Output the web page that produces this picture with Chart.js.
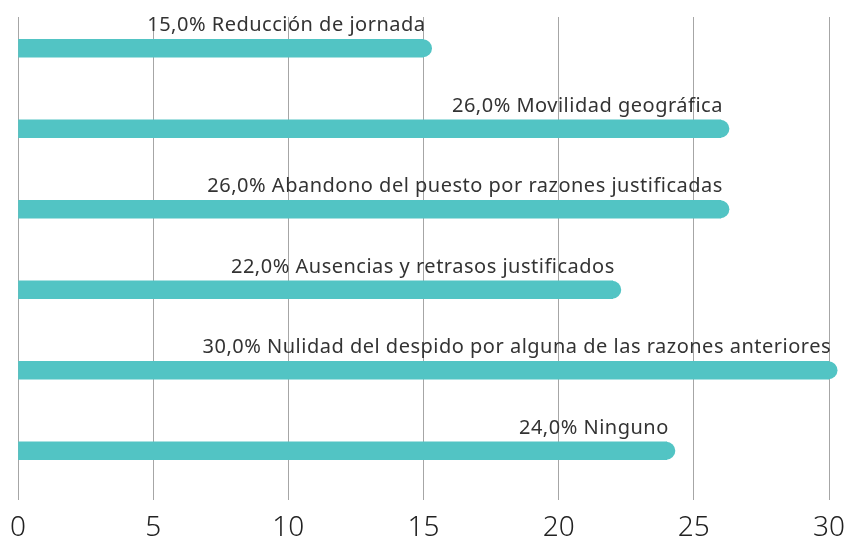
<!DOCTYPE html>
<html>
<head>
<meta charset="utf-8">
<script src="https://cdn.jsdelivr.net/npm/chart.js@4/dist/chart.umd.min.js"></script>
<style>
  html, body { margin: 0; padding: 0; background: #fff; }
  #wrap { width: 851px; height: 542px; }
</style>
</head>
<body>
<div id="wrap"><canvas id="myChart"></canvas></div>
<script>
var categories = [
    'Reducción de jornada',
    'Movilidad geográfica',
    'Abandono del puesto por razones justificadas',
    'Ausencias y retrasos justificados',
    'Nulidad del despido por alguna de las razones anteriores',
    'Ninguno'
];
var values = [15, 26, 26, 22, 30, 24];
var xTicks = [0, 5, 10, 15, 20, 25, 30];

var teal = '#52c4c4';

// round cap at bar end + text label above each bar
var barLabels = {
    id: 'barLabels',
    afterDatasetsDraw: function (chart) {
        var ctx = chart.ctx;
        var meta = chart.getDatasetMeta(0);
        ctx.save();
        meta.data.forEach(function (bar, i) {
            var r = bar.height / 2;
            ctx.fillStyle = teal;
            ctx.beginPath();
            ctx.arc(bar.x - 0.5, bar.y, r, -Math.PI / 2, Math.PI / 2);
            ctx.fill();

            var txt = values[i].toFixed(1).replace('.', ',') + '% ' + categories[i];
            ctx.fillStyle = '#333';
            ctx.font = '400 20px "Noto Sans"';
            ctx.letterSpacing = '0.5px';
            ctx.textAlign = 'right';
            ctx.textBaseline = 'alphabetic';
            ctx.fillText(txt, bar.x + 2, bar.y - r - 8);
        });
        ctx.restore();
    }
};

var ctx = document.getElementById('myChart');
var myChart = new Chart(ctx, {
    type: 'bar',
    data: {
        labels: categories,
        datasets: [{
            data: values,
            backgroundColor: teal,
            borderWidth: 0,
            barThickness: 18
        }, {
            // empty slot so the bar sits in the upper part of each row
            data: categories.map(function () { return null; }),
            barThickness: 18
        }]
    },
    options: {
        indexAxis: 'y',
        responsive: true,
        maintainAspectRatio: false,
        animation: false,
        layout: {
            padding: { top: 17, left: 18, right: 22, bottom: 0 }
        },
        plugins: {
            legend: { display: false },
            tooltip: { enabled: false }
        },
        scales: {
            y: {
                display: false
            },
            x: {
                min: 0,
                max: 30,
                z: 1,
                afterBuildTicks: function (axis) {
                    axis.ticks = xTicks.map(function (v) { return { value: v }; });
                },
                afterFit: function (axis) {
                    axis.height = 42;
                    axis.paddingLeft = 0;
                    axis.paddingRight = 0;
                },
                border: { display: false },
                grid: {
                    color: 'rgba(0,0,0,0.35)',
                    lineWidth: 1,
                    drawTicks: false
                },
                ticks: {
                    padding: 11,
                    color: '#222',
                    font: { family: 'Noto Sans', size: 28, weight: '300' }
                }
            }
        }
    },
    plugins: [barLabels]
});
</script>
</body>
</html>
